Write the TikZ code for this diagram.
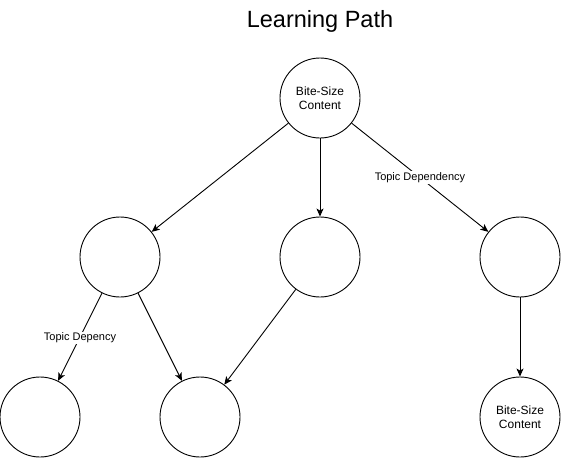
\documentclass[tikz,border=0pt]{standalone}
\usepackage{fontspec}
\setmainfont{Liberation Sans}
\usetikzlibrary{arrows.meta}
\begin{document}
\begin{tikzpicture}[x=1pt,y=-1pt,
  circ/.style={draw,circle,minimum size=80pt,inner sep=0pt,line width=0.9pt,align=center,font=\fontsize{12}{14}\selectfont},
  conn/.style={line width=0.9pt,-{Stealth[length=8pt,width=7pt,inset=2pt]}},
  lbl/.style={fill=white,inner sep=1pt,font=\fontsize{11}{13}\selectfont}]
\useasboundingbox (0,0) rectangle (561,458);
\node[font=\fontsize{23.5}{28}\selectfont] (title) at (320,21) {Learning Path};
\node[circ] (top) at (320,98) {Bite-Size\\Content};
\node[circ] (ml) at (120,257) {};
\node[circ] (mm) at (320,257) {};
\node[circ] (mr) at (520,257) {};
\node[circ] (bl) at (40,417) {};
\node[circ] (bm) at (200,417) {};
\node[circ] (br) at (520,417) {Bite-Size\\Content};
\draw[conn] (top) -- (ml);
\draw[conn] (top) -- (mm);
\draw[conn] (top) -- node[lbl] {Topic Dependency} (mr);
\draw[conn] (ml) -- node[lbl,yshift=-1pt] {Topic Depency} (bl);
\draw[conn] (ml) -- (bm);
\draw[conn] (mm) -- (bm);
\draw[conn] (mr) -- (br);
\end{tikzpicture}
\end{document}
